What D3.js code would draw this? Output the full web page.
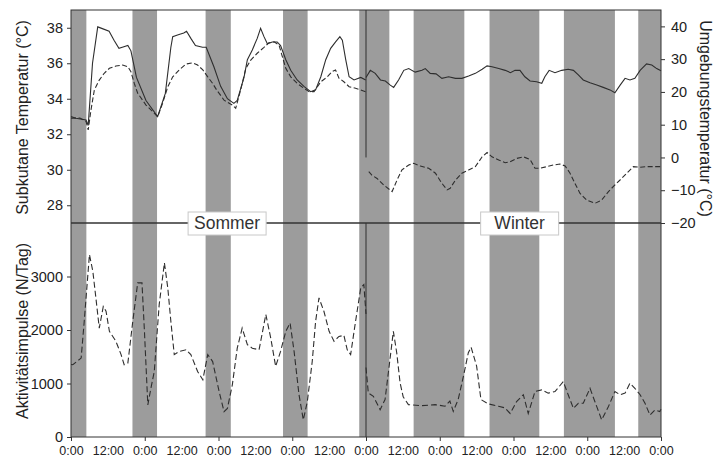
<!DOCTYPE html>
<html>
<head>
<meta charset="utf-8">
<script src="https://cdn.jsdelivr.net/npm/d3@7/dist/d3.min.js"></script>
<style>
  html, body { margin: 0; padding: 0; background: #fff; }
  svg { display: block; font-family: "Liberation Sans", Arial, sans-serif; }
</style>
</head>
<body>
<svg id="chart" width="715" height="460"></svg>
<script>
// Time axis in hours: 0–96 summer record, 96–192 winter record
const hourTicks = d3.range(0, 193, 12);
const dayTicks = d3.range(0, 193, 24);

// Night periods [start, end] in hours
const nightsSummer = [[0, 5], [20, 28], [43.8, 52], [69, 77], [93.8, 96]];
const nightsWinter = [[96, 103.6], [111.5, 128], [136.2, 152.4], [160.4, 177], [184.6, 192]];

// Subcutaneous temperature (°C, left axis)
const skinSummer = [
  [0, 33.0], [1.6, 32.9], [4.9, 32.8], [5.6, 32.5], [7.0, 36.0], [8.7, 38.05],
  [10.2, 37.95], [12.4, 37.8], [14.0, 37.3], [15.6, 36.84], [17.2, 36.93], [18.5, 37.0],
  [19.5, 36.7], [21.3, 35.2], [24.4, 33.9], [28.2, 33.0], [30.7, 34.3], [32.5, 36.9],
  [33.1, 37.5], [34.9, 37.6], [36.7, 37.7], [37.6, 37.8], [39.0, 37.4], [40.5, 37.0],
  [42.8, 36.9], [44.0, 36.9], [46.5, 35.8], [48.7, 34.7], [50.9, 34.0], [53.0, 33.74],
  [54.1, 33.9], [56.3, 35.2], [57.4, 36.2], [59.0, 36.75], [60.6, 37.4], [61.7, 37.97],
  [62.8, 37.5], [63.9, 37.1], [65.5, 37.2], [67.1, 37.2], [68.2, 37.0], [69.9, 36.2],
  [71.5, 35.6], [73.6, 35.06], [75.8, 34.7], [78.0, 34.4], [79.6, 34.5], [81.3, 35.24],
  [82.9, 36.2], [84.5, 36.84], [86.1, 37.2], [87.5, 37.5], [88.3, 37.3], [89.4, 36.2],
  [90.5, 35.24], [92.1, 35.06], [94.3, 35.2], [95.9, 35.06]
];
const skinWinter = [
  [96, 35.2], [97.4, 35.6], [99.0, 35.43], [100.7, 35.06], [102.3, 35.0], [103.9, 34.77],
  [105.0, 34.64], [106.6, 35.06], [108.3, 35.6], [109.9, 35.7], [112.0, 35.5], [114.2, 35.6],
  [115.3, 35.7], [116.9, 35.43], [118.8, 35.4], [120.7, 35.15], [122.9, 35.24], [125.1, 35.15],
  [127.2, 35.15], [129.4, 35.28], [131.6, 35.43], [133.8, 35.66], [135.4, 35.85], [137.0, 35.8],
  [139.2, 35.7], [141.3, 35.6], [143.0, 35.47], [144.5, 35.6], [146.1, 35.6], [147.7, 35.24],
  [149.4, 35.0], [151.5, 34.96], [153.2, 34.87], [154.2, 35.24], [155.6, 35.6], [157.5, 35.47],
  [159.7, 35.6], [161.8, 35.66], [163.5, 35.6], [165.1, 35.34], [166.7, 35.06], [168.9, 34.9],
  [171.1, 34.77], [173.2, 34.64], [175.4, 34.5], [177.0, 34.34], [178.7, 34.77], [180.3, 35.15],
  [181.9, 35.06], [183.5, 35.15], [185.2, 35.6], [187.3, 35.96], [189.0, 35.9], [190.6, 35.7],
  [192, 35.58]
];

// Ambient temperature (°C, right axis)
const airSummer = [
  [0, 12.0], [2.9, 12.0], [4.9, 11.0], [5.6, 8.4], [6.5, 14.5], [7.6, 20.6], [9.2, 23.6],
  [10.8, 25.7], [12.5, 27.2], [14.6, 27.9], [16.8, 28.2], [18.5, 27.7], [19.5, 26.2],
  [20.6, 22.6], [21.7, 19.6], [24.4, 16.0], [26.6, 14.0], [28.2, 12.4], [29.8, 16.5],
  [31.5, 21.6], [33.1, 24.6], [35.2, 26.7], [37.4, 28.5], [39.6, 28.9], [41.2, 28.2],
  [42.9, 26.7], [44.5, 24.6], [46.1, 22.6], [47.4, 20.6], [49.8, 17.5], [52.5, 16.0],
  [53.6, 15.0], [55.2, 20.6], [56.9, 27.2], [58.5, 29.7], [60.6, 31.8], [62.8, 33.6],
  [64.4, 35.0], [66.1, 35.3], [67.7, 34.3], [68.8, 30.7], [69.9, 27.2], [71.5, 24.6],
  [73.6, 22.6], [75.8, 21.1], [77.5, 20.1], [79.1, 20.1], [81.3, 23.1], [83.4, 24.6],
  [85.0, 26.2], [86.1, 26.7], [87.2, 24.2], [88.8, 23.1], [90.5, 21.6], [92.6, 21.1],
  [94.3, 20.6], [96, 20.0]
];
const airWinter = [
  [96.9, -4.3], [97.9, -5.4], [99.6, -6.4], [101.9, -8.5], [104.5, -10.4], [106.1, -6.9],
  [107.7, -3.8], [109.9, -2.3], [111.5, -1.8], [113.7, -2.6], [116.4, -3.3], [118.6, -4.8],
  [120.7, -7.9], [122.4, -9.9], [123.4, -9.4], [125.1, -6.9], [127.2, -4.8], [129.4, -3.8],
  [131.6, -2.8], [133.8, 0.2], [135.4, 1.5], [137.0, 0.2], [139.2, -0.8], [141.3, -1.6],
  [142.9, -1.3], [145.0, -0.3], [147.2, 0.2], [149.4, -0.6], [151.0, -3.3], [152.6, -3.3],
  [154.8, -2.8], [157.0, -2.3], [159.1, -2.0], [160.8, -2.6], [162.4, -4.8], [164.0, -7.9],
  [165.6, -10.9], [167.8, -13.0], [170.5, -14.0], [172.7, -13.0], [174.9, -10.4], [177.0, -8.4],
  [179.2, -6.4], [181.4, -4.3], [183.0, -2.8], [185.2, -3.0], [187.3, -2.8], [190.6, -2.8],
  [192, -2.8]
];

// Activity impulses (N/Tag)
const activitySummer = [
  [0, 1355], [0.6, 1350], [3.3, 1475], [4.3, 2160], [6.0, 3410], [7.1, 3100], [8.1, 2600],
  [9.2, 2035], [10.5, 2440], [11.4, 2350], [12.5, 1975], [14.6, 1790], [16.3, 1540],
  [17.3, 1350], [18.5, 1380], [20.1, 2160], [21.7, 2880], [23.1, 2880], [23.9, 1975],
  [25.0, 600], [26.0, 910], [27.1, 1225], [28.7, 2475], [30.4, 3255], [31.5, 2785],
  [32.5, 2160], [33.6, 1540], [35.2, 1600], [37.4, 1630], [39.0, 1540], [41.2, 1225],
  [42.9, 1070], [44.5, 1540], [46.1, 1410], [48.2, 850], [49.8, 475], [50.9, 535],
  [52.5, 975], [54.1, 1660], [55.7, 2035], [57.4, 1725], [59.0, 1660], [61.2, 1630],
  [63.4, 2290], [65.0, 1850], [66.6, 1320], [68.2, 1600], [69.9, 1975], [71.3, 2130],
  [72.6, 1600], [74.2, 790], [75.6, 320], [76.9, 660], [78.5, 1410], [79.6, 2160],
  [80.7, 2600], [82.3, 2350], [84.0, 1975], [85.6, 1790], [87.2, 1880], [88.8, 1900],
  [89.9, 1630], [91.0, 1540], [92.6, 2160], [94.3, 2790], [95.3, 2850], [96, 2300]
];
const activityWinter = [
  [96, 1300], [96.75, 825], [98.4, 760], [100.6, 510], [102.2, 700], [103.8, 1450],
  [104.9, 1975], [106.0, 1575], [107.1, 1010], [108.1, 750], [109.8, 605], [114.1, 585],
  [118.5, 605], [121.7, 575], [123.3, 670], [124.4, 480], [126.0, 700], [127.7, 1135],
  [129.3, 1575], [130.2, 1680], [132.0, 1325], [133.4, 700], [135.8, 620], [139.1, 575],
  [141.2, 545], [142.9, 440], [145.0, 660], [147.2, 790], [148.8, 440], [151.0, 850],
  [153.2, 880], [155.3, 820], [157.5, 850], [160.2, 1035], [161.8, 790], [163.5, 535],
  [165.1, 630], [166.7, 630], [168.9, 910], [170.5, 660], [172.7, 320], [174.9, 570],
  [177.0, 850], [178.7, 790], [180.3, 820], [181.9, 1005], [183.5, 910], [185.2, 790],
  [186.8, 630], [188.4, 410], [190.0, 505], [191.6, 475], [192, 520]
];

const skinTicks = [28, 30, 32, 34, 36, 38];
const airTicks = [-20, -10, 0, 10, 20, 30, 40];
const activityTicks = [0, 1000, 2000, 3000];
const seasons = [{ name: "Sommer", hour: 50.8 }, { name: "Winter", hour: 146 }];
const seasonBreak = 96;

// ---- layout ----
const plotL = 71, plotR = 661, plotT = 10, plotMid = 223, plotB = 437;
const svg = d3.select("#chart");
const ink = "#2e2e2e";

const x = d3.scaleLinear().domain([0, 192]).range([plotL, plotR]);
const ySkin = d3.scaleLinear().domain([27, 39]).range([plotMid, plotT]);
const yAir = d3.scaleLinear().domain([-20, 45]).range([plotMid, plotT]);
const yAct = d3.scaleLinear().domain([0, 4000]).range([plotB, plotMid]);

// night shading, full height of both panels
const nights = nightsSummer.concat(nightsWinter);
svg.append("g").selectAll("rect").data(nights).join("rect")
  .attr("x", d => x(d[0]))
  .attr("width", d => x(d[1]) - x(d[0]))
  .attr("y", plotT)
  .attr("height", plotB - plotT)
  .attr("fill", "#9c9c9c");

// season break
svg.append("line")
  .attr("x1", x(seasonBreak)).attr("x2", x(seasonBreak))
  .attr("y1", yAir(45)).attr("y2", yAir(0))
  .attr("stroke", ink).attr("stroke-width", 1);
svg.append("line")
  .attr("x1", x(seasonBreak)).attr("x2", x(seasonBreak))
  .attr("y1", yAct(4000)).attr("y2", yAct(0))
  .attr("stroke", ink).attr("stroke-width", 1);

// series
const lineSkin = d3.line().x(d => x(d[0])).y(d => ySkin(d[1]));
const lineAir = d3.line().x(d => x(d[0])).y(d => yAir(d[1]));
const lineAct = d3.line().x(d => x(d[0])).y(d => yAct(d[1]));

const series = [
  { data: skinSummer, gen: lineSkin, dash: null },
  { data: skinWinter, gen: lineSkin, dash: null },
  { data: airSummer, gen: lineAir, dash: "5,2.5" },
  { data: airWinter, gen: lineAir, dash: "5,2.5" },
  { data: activitySummer, gen: lineAct, dash: "6,3" },
  { data: activityWinter, gen: lineAct, dash: "6,3" }
];
svg.append("g").selectAll("path").data(series).join("path")
  .attr("d", d => d.gen(d.data))
  .attr("fill", "none")
  .attr("stroke", ink)
  .attr("stroke-width", 1.1)
  .attr("stroke-dasharray", d => d.dash);

// frame and panel divider
svg.append("rect")
  .attr("x", plotL).attr("y", plotT)
  .attr("width", plotR - plotL).attr("height", plotB - plotT)
  .attr("fill", "none").attr("stroke", "#333").attr("stroke-width", 1);
svg.append("line")
  .attr("x1", plotL).attr("x2", plotR).attr("y1", plotMid).attr("y2", plotMid)
  .attr("stroke", "#333").attr("stroke-width", 1.3);

// season labels
const seasonG = svg.append("g").selectAll("g").data(seasons).join("g")
  .attr("transform", d => `translate(${x(d.hour)},${plotMid})`);
seasonG.append("rect")
  .attr("x", -39).attr("y", -11).attr("width", 78).attr("height", 23)
  .attr("fill", "#fff").attr("stroke", "#c8c8c8").attr("stroke-width", 1);
seasonG.append("text")
  .attr("text-anchor", "middle").attr("dy", "0.36em")
  .attr("font-size", 17.5).attr("fill", "#333")
  .text(d => d.name);

// axes
function styleAxis(g) {
  g.select(".domain").remove();
  g.selectAll(".tick line").attr("stroke", "#333");
  g.selectAll(".tick text").attr("fill", "#222").attr("font-size", 14.5)
    .attr("font-family", "'Liberation Sans', Arial, sans-serif");
}
svg.append("g").attr("transform", `translate(${plotL},0)`)
  .call(d3.axisLeft(ySkin).tickValues(skinTicks).tickSize(4).tickPadding(4).tickFormat(d3.format("d")))
  .call(styleAxis);
svg.append("g").attr("transform", `translate(${plotL},0)`)
  .call(d3.axisLeft(yAct).tickValues(activityTicks).tickSize(4).tickPadding(4).tickFormat(d3.format("d")))
  .call(styleAxis);
svg.append("g").attr("transform", `translate(${plotR},0)`)
  .call(d3.axisRight(yAir).tickValues(airTicks).tickSize(4).tickPadding(6).tickFormat(d3.format("d")))
  .call(styleAxis);

const xAxis = svg.append("g").attr("transform", `translate(0,${plotB})`)
  .call(d3.axisBottom(x).tickValues(hourTicks).tickSize(4).tickPadding(5)
    .tickFormat(h => (h % 24 === 0 ? "0:00" : "12:00")))
  .call(styleAxis);
xAxis.selectAll(".tick text").attr("font-size", 12.5);
xAxis.selectAll(".tick line").attr("stroke-opacity", h => (dayTicks.includes(h) ? 1 : 0));

// axis titles
svg.append("text")
  .attr("transform", `translate(28,${(plotT + plotMid) / 2 + 1}) rotate(-90)`)
  .attr("text-anchor", "middle").attr("font-size", 16).attr("fill", "#222")
  .text("Subkutane Temperatur (°C)");
svg.append("text")
  .attr("transform", `translate(28,${(plotMid + plotB) / 2 + 1}) rotate(-90)`)
  .attr("text-anchor", "middle").attr("font-size", 16).attr("fill", "#222")
  .text("Aktivitätsimpulse (N/Tag)");
svg.append("text")
  .attr("transform", `translate(700,${(plotT + plotMid) / 2 + 2}) rotate(90)`)
  .attr("text-anchor", "middle").attr("font-size", 16).attr("fill", "#222")
  .text("Umgebungstemperatur (°C)");
</script>
</body>
</html>
